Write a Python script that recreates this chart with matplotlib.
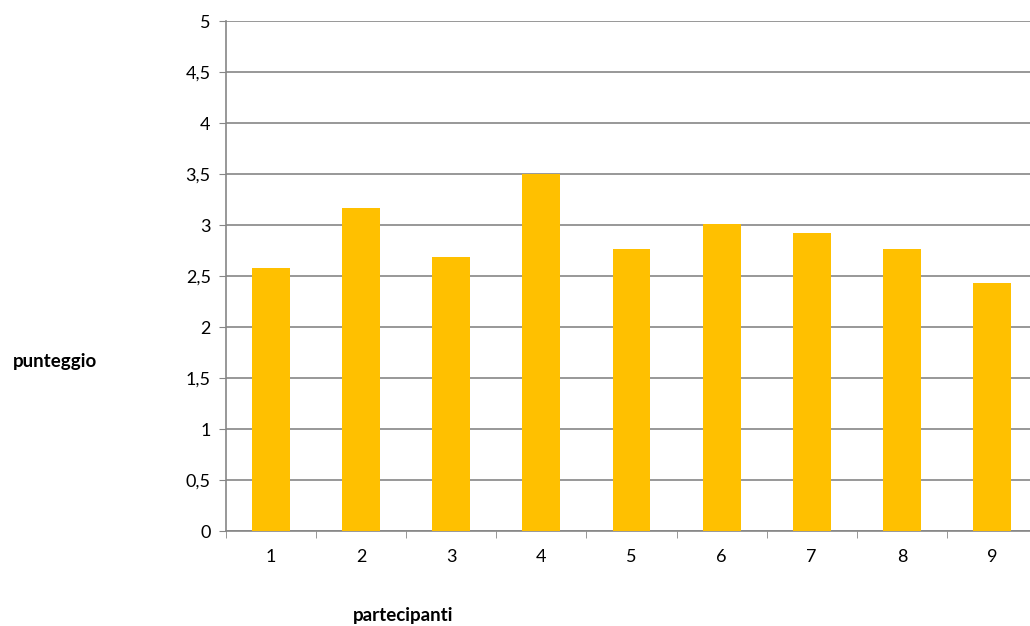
import matplotlib
matplotlib.use("Agg")
import matplotlib.pyplot as plt
from matplotlib.ticker import FuncFormatter, MultipleLocator

plt.rcParams['font.family'] = ['Lato', 'DejaVu Sans']

partecipanti = [1, 2, 3, 4, 5, 6, 7, 8, 9]
punteggio = [2.58, 3.17, 2.69, 3.5, 2.76, 3.01, 2.92, 2.76, 2.43]

grey = '#868686'

fig = plt.figure(figsize=(10.30, 6.26), dpi=100)
ax = fig.add_axes([226 / 1030, 1 - 531 / 626, 811 / 1030, 510 / 626])

ax.bar(partecipanti, punteggio, width=0.42, color='#FFC000', zorder=3)

ax.set_xlim(0.5, 9.5)
ax.set_ylim(0, 5)
ax.yaxis.set_major_locator(MultipleLocator(0.5))
ax.yaxis.set_major_formatter(FuncFormatter(lambda v, p: f"{v:g}".replace('.', ',')))
ax.grid(axis='y', color=grey, linewidth=1.2, zorder=0)

# category labels centred, tick marks between categories
ax.set_xticks(partecipanti)
ax.set_xticks([x + 0.5 for x in range(0, 10)], minor=True)
ax.tick_params(axis='x', which='major', length=0, pad=13, labelsize=13)
ax.tick_params(axis='x', which='minor', length=5, color=grey, direction='out')
ax.tick_params(axis='y', length=5, color=grey, direction='out', pad=6, labelsize=13)

for s in ['top', 'right']:
    ax.spines[s].set_visible(False)
for s in ['left', 'bottom']:
    ax.spines[s].set_color(grey)
    ax.spines[s].set_linewidth(1.2)

fig.text(55 / 1030, 1 - 361 / 626, 'punteggio', ha='center', va='center',
         fontsize=13.5, fontweight='bold')
fig.text(403 / 1030, 1 - 615 / 626, 'partecipanti', ha='center', va='center',
         fontsize=13.5, fontweight='bold')

fig.savefig('out.png', dpi=100)
